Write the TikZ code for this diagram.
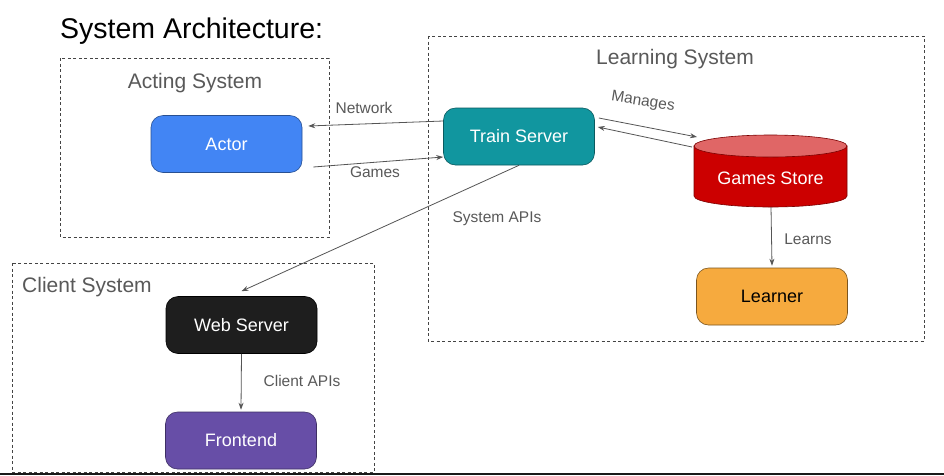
\documentclass[tikz,border=0pt]{standalone}
\usepackage{fontspec}
\setmainfont{Liberation Sans}
\usetikzlibrary{arrows.meta}
\definecolor{lbl}{HTML}{595959}
\definecolor{boxc}{HTML}{444444}
\definecolor{actorc}{HTML}{4285F4}
\definecolor{trainc}{HTML}{11969F}
\definecolor{gsred}{HTML}{CC0000}
\definecolor{gstop}{HTML}{E06666}
\definecolor{learnc}{HTML}{F6AA3E}
\definecolor{webc}{HTML}{1E1E1E}
\definecolor{frontc}{HTML}{674EA7}
\definecolor{arrc}{HTML}{555555}
\tikzset{
  sysbox/.style={draw=boxc, line width=0.7pt, dash pattern=on 3pt off 2.5pt},
  syslabel/.style={text=lbl, font=\fontsize{21}{24}\selectfont, inner sep=0pt},
  comp/.style={rounded corners=12pt, minimum width=151pt, minimum height=57pt, line width=0.6pt, font=\fontsize{18}{21}\selectfont, inner sep=0pt},
  conn/.style={draw=arrc, line width=0.8pt, -{Stealth[length=7pt,width=5pt]}},
  elabel/.style={text=lbl, font=\fontsize{15.5}{18}\selectfont, inner sep=0pt},
}
\begin{document}
\begin{tikzpicture}[x=1pt,y=-1pt]
\useasboundingbox (0,0) rectangle (944,475);
\fill[white] (0,0) rectangle (944,475);
% title
\node[anchor=base west, inner sep=0pt, font=\fontsize{28.5}{32}\selectfont] (title) at (60,38) {System Architecture:};
% system boxes
\draw[sysbox] (60,58) rectangle (329,237);
\node[syslabel, anchor=base] (actlbl) at (195,88) {Acting System};
\draw[sysbox] (428,36) rectangle (924,341);
\node[syslabel, anchor=base] (lrnlbl) at (675,64) {Learning System};
\draw[sysbox] (12,263) rectangle (374,472);
\node[syslabel, anchor=base west] (clilbl) at (22,292) {Client System};
% components
\node[comp, fill=actorc, draw=actorc!60!black, text=white] (ac) at (226.5,144) {Actor};
\node[comp, fill=trainc, draw=trainc!60!black, text=white] (ts) at (519,136.5) {Train Server};
\node[comp, fill=learnc, draw=learnc!50!black, text=black] (ln) at (772,296.5) {Learner};
\node[comp, fill=webc, draw=black, text=white] (ws) at (241.5,325) {Web Server};
\node[comp, fill=frontc, draw=frontc!60!black, text=white] (fr) at (241,440.5) {Frontend};
% cylinder
\draw[fill=gsred, draw=gsred!60!black, line width=0.6pt] (694,146) -- (694,196) arc[start angle=180, end angle=0, x radius=76.5, y radius=11] -- (847,146) -- cycle;
\draw[fill=gstop, draw=gsred!60!black, line width=0.6pt] (770.5,146) ellipse [x radius=76.5, y radius=11];
\node[text=white, font=\fontsize{18}{21}\selectfont, inner sep=0pt] (gs) at (770.5,178) {Games Store};
\coordinate (gsin) at (697,137);
\coordinate (gsout) at (692,147);
\coordinate (gsbot) at (771,207);
% connectors
\draw[conn] ([yshift=15.5pt]ts.west) -- ([xshift=6pt,yshift=18pt]ac.east);
\node[elabel] (netl) at (364,108) {Network};
\draw[conn] ([xshift=11pt,yshift=-23pt]ac.east) -- ([yshift=-20.5pt]ts.west);
\node[elabel] (gamesl) at (375,172) {Games};
\draw[conn] ([xshift=4pt,yshift=18.5pt]ts.east) -- (gsin);
\node[elabel, rotate=-9] (manl) at (643,102) {Manages};
\draw[conn] (gsout) -- ([xshift=3pt,yshift=9.5pt]ts.east);
\draw[conn] (ts.south) -- ([yshift=5pt]ws.north);
\node[elabel] (sysl) at (497,219) {System APIs};
\draw[conn] (gsbot) -- ([yshift=2pt]ln.north);
\node[elabel] (lrnl) at (808,239) {Learns};
\draw[conn] (ws.south) -- ([yshift=2pt]fr.north);
\node[elabel] (clil) at (302,381) {Client APIs};
% bottom rule
\draw[line width=1.6pt, black!90] (0,474.2) -- (944,474.2);
\end{tikzpicture}
\end{document}
